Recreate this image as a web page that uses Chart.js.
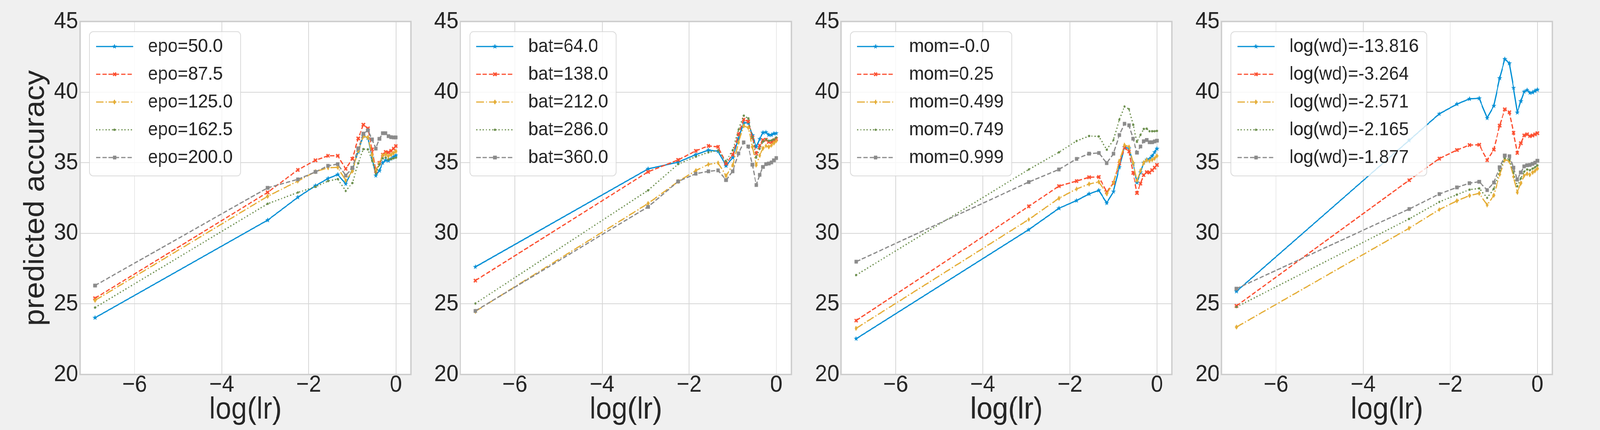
<!DOCTYPE html>
<html>
<head>
<meta charset="utf-8">
<script src="https://cdn.jsdelivr.net/npm/chart.js@4.4.1/dist/chart.umd.min.js"></script>
<style>
    html, body { margin: 0; padding: 0; background: #f0f0f0; overflow: hidden; }
    #fig { position: absolute; left: 0; top: 0; width: 4400px; height: 1100px; transform-origin: 0 0; }
    #fig canvas { position: absolute; top: 0; }
</style>
</head>
<body>
<div id="fig"></div>
<script>
// x values: log(lr), shared by every panel
const logLr = [-6.908, -2.944, -2.251, -1.846, -1.558, -1.335, -1.153, -0.999, -0.865, -0.747,
    -0.642, -0.547, -0.460, -0.379, -0.305, -0.236, -0.172, -0.111, -0.054, 0.0];
const xTicks = [-6, -4, -2, 0];
const yTicks = [20, 25, 30, 35, 40, 45];

// panel 1: epochs
const epoLabels = ['epo=50.0', 'epo=87.5', 'epo=125.0', 'epo=162.5', 'epo=200.0'];
const epo50 = [24.02, 30.93, 32.55, 33.37, 33.88, 34.16, 33.50, 34.51, 35.78, 36.90, 36.76, 35.36, 34.09, 34.44, 34.99, 35.17, 35.15, 35.28, 35.41, 35.52];
const epo87 = [25.40, 32.90, 34.49, 35.17, 35.49, 35.49, 34.57, 35.28, 36.72, 37.69, 37.43, 35.94, 34.41, 34.99, 35.57, 35.76, 35.73, 35.84, 36.00, 36.18];
const epo125 = [25.25, 32.62, 33.70, 34.37, 34.64, 34.67, 33.74, 34.41, 35.84, 36.87, 36.79, 35.57, 34.41, 34.94, 35.52, 35.59, 35.47, 35.57, 35.68, 35.81];
const epo162 = [24.74, 32.09, 32.89, 33.29, 33.70, 33.84, 33.00, 33.56, 34.97, 35.96, 35.94, 35.15, 34.22, 34.85, 35.31, 35.36, 35.23, 35.25, 35.31, 35.36];
const epo200 = [26.30, 33.22, 33.82, 34.35, 34.78, 34.90, 34.09, 34.64, 36.02, 37.06, 37.29, 36.65, 36.00, 36.69, 37.09, 37.09, 36.88, 36.81, 36.79, 36.79];

// panel 2: batch size
const batLabels = ['bat=64.0', 'bat=138.0', 'bat=212.0', 'bat=286.0', 'bat=360.0'];
const bat64 = [27.62, 34.56, 35.04, 35.57, 35.89, 35.81, 34.78, 35.36, 36.74, 37.82, 37.82, 36.95, 36.12, 36.68, 37.13, 37.16, 36.97, 36.97, 37.06, 37.09];
const bat138 = [26.65, 34.35, 35.20, 35.84, 36.19, 36.12, 34.94, 35.57, 37.02, 38.06, 37.92, 36.79, 35.66, 36.21, 36.60, 36.63, 36.47, 36.47, 36.58, 36.68];
const bat212 = [24.47, 32.11, 33.67, 34.44, 34.88, 34.99, 34.07, 34.83, 36.44, 37.61, 37.48, 36.12, 34.83, 35.52, 36.02, 36.19, 36.12, 36.23, 36.39, 36.53];
const bat286 = [25.03, 33.04, 34.90, 35.43, 35.73, 35.87, 35.10, 35.89, 37.35, 38.33, 38.14, 36.79, 35.36, 36.00, 36.49, 36.65, 36.55, 36.58, 36.65, 36.79];
const bat360 = [24.50, 31.87, 33.67, 34.22, 34.39, 34.46, 33.77, 34.39, 35.66, 36.44, 36.15, 34.86, 33.42, 34.14, 34.70, 34.90, 34.94, 35.02, 35.17, 35.33];

// panel 3: momentum
const momLabels = ['mom=-0.0', 'mom=0.25', 'mom=0.499', 'mom=0.749', 'mom=0.999'];
const mom000 = [22.53, 30.26, 31.77, 32.32, 32.79, 33.04, 32.14, 32.96, 34.68, 36.09, 36.01, 34.95, 33.60, 34.31, 35.00, 35.21, 35.27, 35.48, 35.74, 35.99];
const mom025 = [23.82, 31.91, 33.34, 33.70, 33.97, 33.99, 32.93, 33.57, 34.95, 36.06, 35.80, 34.28, 32.85, 33.52, 34.12, 34.33, 34.31, 34.47, 34.65, 34.84];
const mom050 = [23.27, 30.98, 32.48, 33.14, 33.49, 33.64, 32.79, 33.57, 35.11, 36.25, 36.13, 34.97, 33.75, 34.42, 35.00, 35.18, 35.13, 35.21, 35.30, 35.48];
const mom075 = [27.04, 34.52, 35.74, 36.54, 36.89, 36.86, 35.92, 36.61, 38.04, 38.98, 38.79, 37.68, 36.48, 36.96, 37.39, 37.41, 37.23, 37.23, 37.23, 37.25];
const mom100 = [27.99, 33.63, 34.52, 35.27, 35.64, 35.69, 34.97, 35.64, 36.96, 37.76, 37.65, 36.70, 35.71, 36.15, 36.52, 36.61, 36.45, 36.45, 36.51, 36.56];

// panel 4: weight decay
const wdLabels = ['log(wd)=-13.816', 'log(wd)=-3.264', 'log(wd)=-2.571', 'log(wd)=-2.165', 'log(wd)=-1.877'];
const wd13816 = [25.89, 36.58, 38.46, 39.15, 39.52, 39.56, 38.16, 39.03, 40.99, 42.34, 42.04, 40.30, 38.55, 39.36, 40.03, 40.14, 39.95, 39.98, 40.08, 40.17];
const wd3264 = [24.86, 33.76, 35.29, 35.90, 36.25, 36.27, 35.18, 35.93, 37.63, 38.78, 38.57, 37.12, 35.69, 36.38, 36.93, 37.01, 36.88, 36.93, 37.01, 37.09];
const wd2571 = [23.36, 30.36, 31.68, 32.30, 32.67, 32.83, 32.00, 32.69, 34.17, 35.21, 35.11, 34.01, 32.90, 33.55, 34.08, 34.21, 34.15, 34.31, 34.42, 34.58];
const wd2165 = [24.78, 31.02, 32.22, 32.74, 33.09, 33.18, 32.51, 33.15, 34.44, 35.32, 35.23, 34.33, 33.33, 33.89, 34.36, 34.52, 34.47, 34.58, 34.68, 34.81];
const wd1877 = [26.08, 31.72, 32.78, 33.25, 33.55, 33.65, 33.06, 33.60, 34.68, 35.51, 35.46, 34.65, 33.80, 34.31, 34.74, 34.82, 34.84, 34.92, 35.00, 35.14];

const panels = [
    { labels: epoLabels, series: [epo50, epo87, epo125, epo162, epo200], yTitle: 'predicted accuracy' },
    { labels: batLabels, series: [bat64, bat138, bat212, bat286, bat360], yTitle: '' },
    { labels: momLabels, series: [mom000, mom025, mom050, mom075, mom100], yTitle: '' },
    { labels: wdLabels, series: [wd13816, wd3264, wd2571, wd2165, wd1877], yTitle: '' },
];

// style of the five series (fivethirtyeight colour cycle)
const colors = ['#008fd5', '#fc4f30', '#e5ae38', '#6d904f', '#8b8b8b'];
const lineW = 3.2;
const dashes = [[], [12, 5.3], [21, 5.3, 3.3, 5.3], [3.3, 5.4], [12, 5.3]];
const markers = ['star', 'x', 'thinDiamond', 'dot', 'square'];
const FONT = '"Liberation Sans", Arial, sans-serif';
const TEXT = '#262626';

// small canvases used as point styles
function markerCanvas(shape, color) {
    const size = 18;
    const c = document.createElement('canvas');
    c.width = size;
    c.height = size;
    const g = c.getContext('2d');
    g.translate(size / 2, size / 2);
    g.fillStyle = color;
    g.strokeStyle = color;
    g.lineWidth = 1.2;
    g.beginPath();
    if (shape === 'star') {
        for (let k = 0; k < 10; k++) {
            const r = k % 2 === 0 ? 5.2 : 2.1;
            const a = -Math.PI / 2 + k * Math.PI / 5;
            g.lineTo(r * Math.cos(a), r * Math.sin(a));
        }
        g.closePath();
    } else if (shape === 'x') {
        const a = 4.6, b = 1.7;
        g.moveTo(-a, -a + b); g.lineTo(-a + b, -a); g.lineTo(0, -b); g.lineTo(a - b, -a);
        g.lineTo(a, -a + b); g.lineTo(b, 0); g.lineTo(a, a - b); g.lineTo(a - b, a);
        g.lineTo(0, b); g.lineTo(-a + b, a); g.lineTo(-a, a - b); g.lineTo(-b, 0);
        g.closePath();
    } else if (shape === 'thinDiamond') {
        g.moveTo(0, -5.6); g.lineTo(3.5, 0); g.lineTo(0, 5.6); g.lineTo(-3.5, 0);
        g.closePath();
    } else if (shape === 'dot') {
        g.arc(0, 0, 2.4, 0, Math.PI * 2);
    } else {
        g.rect(-4.2, -4.2, 8.4, 8.4);
    }
    g.fill();
    g.stroke();
    return c;
}

// white axes face + grey frame
const axesFrame = {
    id: 'axesFrame',
    beforeDraw(chart) {
        const { ctx, chartArea: a } = chart;
        ctx.save();
        ctx.fillStyle = '#ffffff';
        ctx.fillRect(a.left, a.top, a.right - a.left, a.bottom - a.top);
        ctx.restore();
    },
    afterDraw(chart) {
        const { ctx, chartArea: a } = chart;
        ctx.save();
        ctx.strokeStyle = '#cccccc';
        ctx.lineWidth = 3.5;
        ctx.strokeRect(a.left, a.top, a.right - a.left, a.bottom - a.top);
        ctx.restore();
    }
};

// matplotlib-like legend, drawn inside the axes on top of the lines
const innerLegend = {
    id: 'innerLegend',
    afterDraw(chart) {
        const { ctx, chartArea: a } = chart;
        const sets = chart.data.datasets;
        const fs = 49;
        ctx.save();
        ctx.font = `${fs}px ${FONT}`;
        const textW = Math.max(...sets.map(d => ctx.measureText(d.label).width));
        const x0 = a.left + 26;
        const y0 = a.top + 26;
        const w = 18 + 102 + 41 + textW + 22;
        const h = 369;

        ctx.beginPath();
        ctx.roundRect(x0, y0, w, h, 10);
        ctx.fillStyle = 'rgba(255,255,255,0.8)';
        ctx.fill();
        ctx.strokeStyle = 'rgba(210,210,210,0.8)';
        ctx.lineWidth = 2;
        ctx.stroke();

        sets.forEach((ds, i) => {
            const cy = y0 + 38 + i * 71;
            const hx = x0 + 18;
            ctx.beginPath();
            ctx.setLineDash(ds.borderDash);
            ctx.lineCap = 'butt';
            ctx.strokeStyle = ds.borderColor;
            ctx.lineWidth = ds.borderWidth;
            ctx.moveTo(hx, cy);
            ctx.lineTo(hx + 102, cy);
            ctx.stroke();
            ctx.setLineDash([]);
            const m = ds.pointStyle;
            ctx.drawImage(m, hx + 51 - m.width / 2, cy - m.height / 2);
            ctx.fillStyle = TEXT;
            ctx.textBaseline = 'middle';
            ctx.textAlign = 'left';
            ctx.fillText(ds.label, hx + 143, cy);
        });
        ctx.restore();
    }
};

const fig = document.getElementById('fig');
// the figure is laid out at 4400x1100; stretch it to whatever the window really is
const sx = window.innerWidth / 4400;
const sy = window.innerHeight / 1100;
fig.style.transform = `scale(${sx}, ${sy})`;

const panelStep = 1046.3;

panels.forEach((panel, p) => {
    const canvas = document.createElement('canvas');
    canvas.width = 1180;
    canvas.height = 1100;
    canvas.style.width = '1180px';
    canvas.style.height = '1100px';
    canvas.style.left = Math.round(p * panelStep) + 'px';
    fig.appendChild(canvas);

    const datasets = panel.series.map((values, i) => ({
        label: panel.labels[i],
        data: values.map((v, k) => ({ x: logLr[k], y: v })),
        borderColor: colors[i],
        backgroundColor: colors[i],
        borderWidth: lineW,
        borderDash: dashes[i],
        borderCapStyle: 'butt',
        borderJoinStyle: 'round',
        pointStyle: markerCanvas(markers[i], colors[i]),
        pointRadius: 4,
        pointHoverRadius: 4,
        tension: 0,
        fill: false,
        // later series drawn on top, like matplotlib
        order: panel.series.length - i
    }));

    new Chart(canvas.getContext('2d'), {
        type: 'line',
        data: { datasets: datasets },
        plugins: [axesFrame, innerLegend],
        options: {
            responsive: false,
            animation: false,
            devicePixelRatio: 1,
            events: [],
            layout: { padding: { left: 0, right: 50, top: 55, bottom: 0 } },
            plugins: {
                legend: { display: false },
                tooltip: { enabled: false },
                title: { display: false }
            },
            scales: {
                x: {
                    type: 'linear',
                    min: -7.253,
                    max: 0.345,
                    afterBuildTicks: (axis) => { axis.ticks = xTicks.map(v => ({ value: v })); },
                    afterFit: (scale) => { scale.height = 142; },
                    grid: { color: '#d6d6d6', lineWidth: 2, drawTicks: false },
                    border: { display: false },
                    ticks: {
                        padding: -9,
                        color: TEXT,
                        font: { family: FONT, size: 60 },
                        maxRotation: 0,
                        callback: (v) => String(v).replace('-', '\u2212')
                    },
                    title: {
                        display: true,
                        text: 'log(lr)',
                        color: TEXT,
                        font: { family: FONT, size: 78 },
                        padding: { top: 0, bottom: 4 }
                    }
                },
                y: {
                    min: 20,
                    max: 45,
                    afterBuildTicks: (axis) => { axis.ticks = yTicks.map(v => ({ value: v })); },
                    afterFit: (scale) => { scale.width = 220; },
                    grid: { color: '#d6d6d6', lineWidth: 2, drawTicks: false },
                    border: { display: false },
                    ticks: {
                        padding: 5,
                        color: TEXT,
                        font: { family: FONT, size: 60 }
                    },
                    title: {
                        display: panel.yTitle !== '',
                        text: panel.yTitle,
                        color: TEXT,
                        font: { family: FONT, size: 78 },
                        padding: { top: 52, bottom: 0 }
                    }
                }
            }
        }
    });
});
</script>
</body>
</html>
